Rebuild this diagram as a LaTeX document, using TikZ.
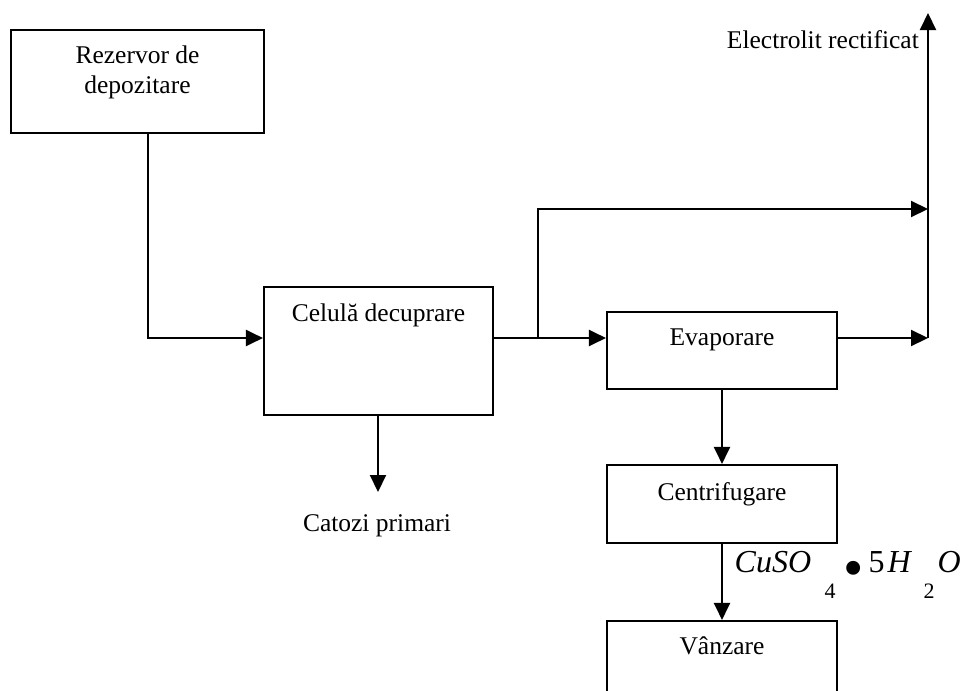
\documentclass[tikz,border=0pt]{standalone}
\usepackage{fontspec}
\setmainfont{Liberation Serif}
\usetikzlibrary{arrows.meta,calc}
% place a piece of a formula at a fixed offset from the start of the line
\newcommand{\atx}[2]{\makebox[0pt][l]{\hspace{#1}#2}}
\begin{document}
\begin{tikzpicture}[x=1pt,y=-1pt,
  stage/.style={draw,line width=2.1pt,rectangle,inner sep=0pt},
  caption/.style={font=\fontsize{25.5}{30}\selectfont,anchor=base,inner sep=0pt},
  flow/.style={line width=2.1pt,-{Triangle[length=17pt,width=16pt]}}]
\useasboundingbox (0,0) rectangle (970,691);

% process stages
\node[stage,minimum width=253pt,minimum height=103pt] (rez) at (137.5,81.5) {};
\node[stage,minimum width=229pt,minimum height=128pt] (cel) at (378.5,351) {};
\node[stage,minimum width=230pt,minimum height=77pt]  (eva) at (722,350.5) {};
\node[stage,minimum width=230pt,minimum height=78pt]  (cen) at (722,504) {};
\node[stage,minimum width=230pt,minimum height=80pt]  (van) at (722,661) {};

% stage captions
\node[caption,align=center] (rezt) at ($(rez.north)+(0,65)$) {Rezervor de\\depozitare};
\node[caption] (celt) at ($(cel.north)+(0,36)$) {Celulă decuprare};
\node[caption] (evat) at ($(eva.north)+(0,35)$) {Evaporare};
\node[caption] (cent) at ($(cen.north)+(0,37)$) {Centrifugare};
\node[caption] (vant) at ($(van.north)+(0,35)$) {Vânzare};

% routing points
\coordinate (r1) at (148,338);
\coordinate (j) at (538,338);
\coordinate (t) at (928,209);
\coordinate (m) at (928,338);
\coordinate (out) at (928,13);
\coordinate (cat) at (378,492);

% connectors
\draw[flow] (rez.south -| r1) -- (r1) -- (cel.west |- r1);
\draw[flow] (cel.east |- j) -- (eva.west |- j);
\draw[flow] (j) |- (t);
\draw[flow] (eva.east |- m) -- (m);
\draw[flow] (m) -- (out);
\draw[flow] (cel.south -| cat) -- (cat);
\draw[flow] (eva.south) -- (cen.north);
\draw[flow] (cen.south) -- (van.north);

% outputs
\node[caption,anchor=base east] (elt) at (919,48) {Electrolit rectificat};
\node[caption] (catt) at (377,531) {Catozi primari};
\node[anchor=base west,inner sep=0pt,font=\fontsize{32}{34}\selectfont] (salt) at (734,572)
  {\atx{0pt}{\itshape CuSO}%
   \atx{90pt}{\raisebox{-26pt}{\fontsize{22}{22}\selectfont 4}}%
   \atx{109pt}{\raisebox{-15pt}{\fontsize{58}{58}\selectfont •}}%
   \atx{134pt}{5}%
   \atx{153pt}{\itshape H}%
   \atx{189pt}{\raisebox{-26pt}{\fontsize{22}{22}\selectfont 2}}%
   \atx{203pt}{\itshape O}};
\end{tikzpicture}
\end{document}
